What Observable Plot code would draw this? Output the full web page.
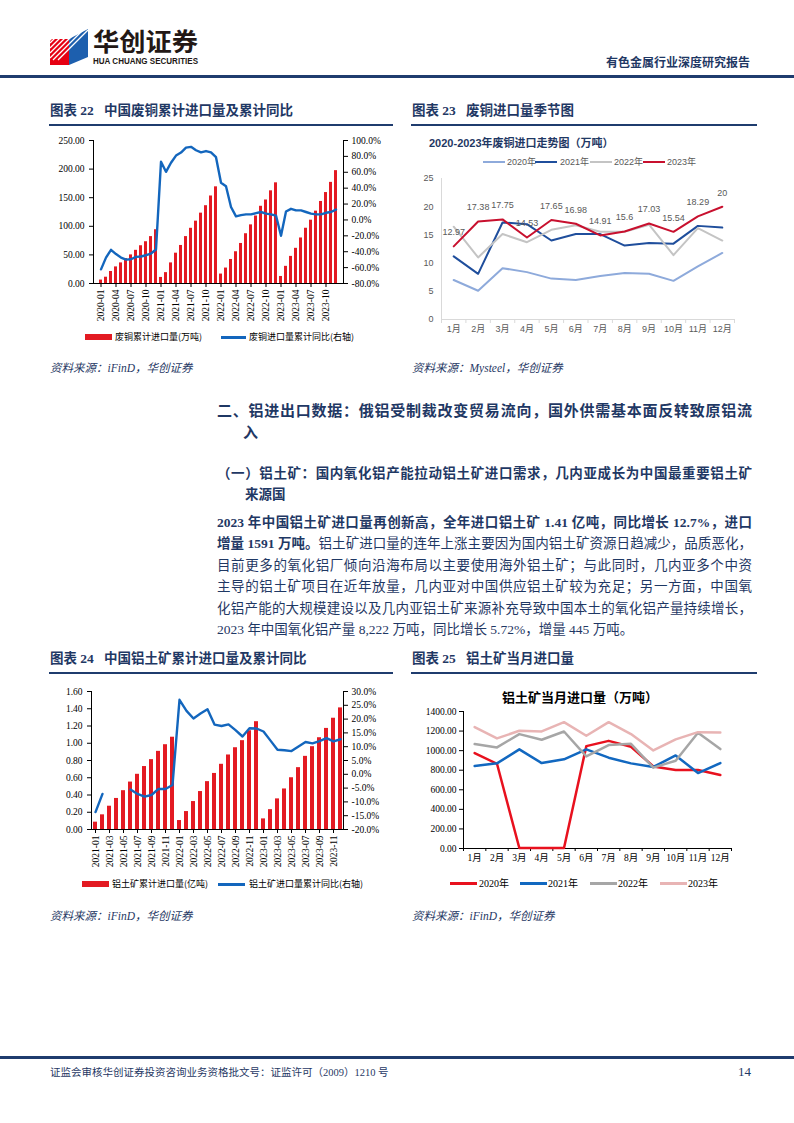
<!DOCTYPE html>
<html><head><meta charset="utf-8">
<script src="https://cdn.jsdelivr.net/npm/d3@7"></script>
<script src="https://cdn.jsdelivr.net/npm/@observablehq/plot@0.6"></script>
<style>
body{margin:0;background:#fff;}
#page{position:relative;width:794px;height:1123px;overflow:hidden;background:#fff;font-family:"Liberation Serif","Noto Sans CJK SC",serif;color:#1f3864;}
#page svg{position:absolute;overflow:visible;}
</style></head><body><div id="page"></div>
<script>
// ---------------- DATA ----------------
// Chart 22: scrap copper cumulative imports (万吨) and cumulative YoY (%)
const cuMonths = ["2020-01","2020-02","2020-03","2020-04","2020-05","2020-06","2020-07","2020-08","2020-09","2020-10","2020-11","2020-12",
"2021-01","2021-02","2021-03","2021-04","2021-05","2021-06","2021-07","2021-08","2021-09","2021-10","2021-11","2021-12",
"2022-01","2022-02","2022-03","2022-04","2022-05","2022-06","2022-07","2022-08","2022-09","2022-10","2022-11","2022-12",
"2023-01","2023-02","2023-03","2023-04","2023-05","2023-06","2023-07","2023-08","2023-09","2023-10","2023-11","2023-12"];
const cuQty = [6,11,21,29,36,43.5,50,58,66,73,82,94,
10.6,19,36,53,66.5,82,96.5,109,123,136,153,169,
16.5,27,42,55.5,70,87,102.5,118,135,146,162,176,
12.3,30,47.4,61.5,79.6,96.6,110.7,126.5,143.4,159,176.8,197.3];
const cuYoy = [-62.2,-47.4,-37.6,-43,-47.4,-50,-49.5,-46.5,-46,-44.4,-42.3,-37.2,
73.3,60.6,72,81,84.8,91,92,87.7,85,86.7,85,79,
46.8,42.5,16.3,4.5,6,7,7,8.5,10,8,7,5.5,
-20,10.6,14,12,12,10,8,7,7,9,10,13];
const cuTicks = ["2020-01","2020-04","2020-07","2020-10","2021-01","2021-04","2021-07","2021-10","2022-01","2022-04","2022-07","2022-10","2023-01","2023-04","2023-07","2023-10"];
const cuLeftTicks = [0,50,100,150,200,250];
const cuRightTicks = [-80,-60,-40,-20,0,20,40,60,80,100];

// Chart 23: scrap copper monthly imports by year (万吨)
const seasonMonths = ["1月","2月","3月","4月","5月","6月","7月","8月","9月","10月","11月","12月"];
const cu2020 = [7.0,5.1,9.1,8.4,7.25,7.0,7.7,8.25,8.1,6.85,9.4,11.8];
const cu2021 = [11.2,8.1,17.2,16.9,14.0,15.15,15.15,13.1,13.55,13.45,16.6,16.3];
const cu2022 = [16.45,11.0,15.15,13.7,15.9,16.7,15.55,15.55,16.8,11.4,16.2,14.0];
const cu2023 = [12.97,17.38,17.75,14.53,17.65,16.98,14.91,15.6,17.03,15.54,18.29,20];
const cuSeasonTicks = [0,5,10,15,20,25];
const seasonYears = ["2020年","2021年","2022年","2023年"];

// Chart 24: bauxite cumulative imports (亿吨) and cumulative YoY (%)
const bxMonths = ["2021-01","2021-02","2021-03","2021-04","2021-05","2021-06","2021-07","2021-08","2021-09","2021-10","2021-11","2021-12",
"2022-01","2022-02","2022-03","2022-04","2022-05","2022-06","2022-07","2022-08","2022-09","2022-10","2022-11","2022-12",
"2023-01","2023-02","2023-03","2023-04","2023-05","2023-06","2023-07","2023-08","2023-09","2023-10","2023-11","2023-12"];
const bxQty = [0.085,0.17,0.27,0.36,0.45,0.55,0.64,0.73,0.81,0.906,0.983,1.07,
0.104,0.208,0.324,0.44,0.555,0.65,0.756,0.864,0.948,1.03,1.145,1.25,
0.123,0.23,0.355,0.47,0.60,0.717,0.848,0.96,1.064,1.172,1.29,1.41];
const bxYoy = [-13.7,-7.1,null,null,null,-5.5,-7.1,-8.1,-7.5,-5.3,-5.3,-3.9,
27,23,20.2,22,23.6,18,17.5,18.1,16,13.7,16.7,16.6,
15.5,12.2,8.9,8.7,8.4,10.1,11.7,11.2,12.0,13.1,11.9,12.7];
const bxTicks = ["2021-01","2021-03","2021-05","2021-07","2021-09","2021-11","2022-01","2022-03","2022-05","2022-07","2022-09","2022-11","2023-01","2023-03","2023-05","2023-07","2023-09","2023-11"];
const bxLeftTicks = [0,0.2,0.4,0.6,0.8,1.0,1.2,1.4,1.6];
const bxRightTicks = [-20,-15,-10,-5,0,5,10,15,20,25,30];

// Chart 25: bauxite monthly imports (万吨)
const bx2020 = [975,866,5,5,5,1046,1100,1040,839,802,802,751];
const bx2021 = [843,870,1013,873,911,1013,928,870,833,951,771,873];
const bx2022 = [1067,1033,1169,1111,1196,941,1057,1070,826,897,1183,1016];
const bx2023 = [1240,1125,1203,1196,1291,1152,1291,1169,1002,1115,1189,1186];
const bxSeasonTicks = [0,200,400,600,800,1000,1200,1400];

// ---------------- HELPERS ----------------
const NAVY = "#1f3864";
const page = document.getElementById("page");
function el(css, html){const e=document.createElement("div");e.style.cssText="position:absolute;white-space:nowrap;"+css;if(html!=null)e.innerHTML=html;page.appendChild(e);return e;}
function txt(x,y,s,css){return el(`left:${x}px;top:${y-10}px;line-height:20px;height:20px;${css||""}`,s);}
function txtR(xr,y,s,css){return el(`right:${794-xr}px;top:${y-10}px;line-height:20px;height:20px;text-align:right;${css||""}`,s);}
function txtC(xc,y,s,css){return el(`left:${xc-150}px;width:300px;top:${y-10}px;line-height:20px;height:20px;text-align:center;${css||""}`,s);}
function place(svg,left,top){svg.style.left=left+"px";svg.style.top=top+"px";page.appendChild(svg);}
function hline(x1,x2,y,h,c){el(`left:${x1}px;top:${y}px;width:${x2-x1}px;height:${h}px;background:${c};`);}
function justLine(x,y,w,html,css,last){return el(`left:${x}px;top:${y-10}px;width:${w}px;line-height:20px;height:20px;text-align:justify;text-align-last:${last?"left":"justify"};white-space:normal;${css||""}`,html);}
const round1 = v => (Math.round(v*10)/10);

// ---------------- HEADER ----------------
const logo = document.createElementNS("http://www.w3.org/2000/svg","svg");
logo.setAttribute("width","160");logo.setAttribute("height","45");
logo.innerHTML = `
<polygon points="0,12 19,12 19,38 0,38" fill="#e60012"/>
<polygon points="19,12 38,2 38,30 19,38" fill="#1d5fae"/>
<g stroke="#fff" stroke-width="1.2">
<line x1="0" y1="16" x2="16" y2="0"/><line x1="0" y1="21" x2="21" y2="0"/><line x1="0" y1="26" x2="26" y2="0"/>
<line x1="0" y1="31" x2="31" y2="0"/><line x1="3" y1="33" x2="36" y2="0"/><line x1="8" y1="33" x2="38" y2="3"/>
</g>
<polygon points="0,0 14,0 0,14" fill="#fff"/>
<text x="43" y="24" font-family="Noto Sans CJK SC" font-weight="700" font-size="25" fill="#231815" textLength="105" lengthAdjust="spacingAndGlyphs">华创证券</text>
<text x="43" y="37" font-family="Liberation Sans" font-weight="700" font-size="8.5" fill="#231815" textLength="105" lengthAdjust="spacingAndGlyphs">HUA CHUANG SECURITIES</text>`;
place(logo,50,27);
txtR(750,62,"有色金属行业深度研究报告",`font-family:"Noto Sans CJK SC";font-size:12px;font-weight:700;color:${NAVY};`);
hline(0,794,75,3,"#1f3c6e");

// Figure titles
const figT = `font-family:"Liberation Serif","Noto Sans CJK SC";font-size:13.5px;font-weight:700;color:${NAVY};`;
txt(50,111,"图表 22&nbsp;&nbsp;&nbsp;中国废铜累计进口量及累计同比",figT);
txt(412,111,"图表 23&nbsp;&nbsp;&nbsp;废铜进口量季节图",figT);
hline(49,393,124,1.5,"#1f3c6e");hline(411,757,124,1.5,"#1f3c6e");
txt(50,659,"图表 24&nbsp;&nbsp;&nbsp;中国铝土矿累计进口量及累计同比",figT);
txt(412,659,"图表 25&nbsp;&nbsp;&nbsp;铝土矿当月进口量",figT);
hline(49,393,672,1.5,"#1f3c6e");hline(411,757,672,1.5,"#1f3c6e");

const srcT = `font-family:"Liberation Serif","Noto Sans CJK SC";font-size:11.5px;font-style:italic;color:${NAVY};`;
txt(50,368,"资料来源：iFinD，华创证券",srcT);
txt(412,368,"资料来源：Mysteel，华创证券",srcT);
txt(50,916,"资料来源：iFinD，华创证券",srcT);
txt(412,916,"资料来源：iFinD，华创证券",srcT);

// ---------------- BODY TEXT ----------------
const hT = `font-family:"Noto Sans CJK SC";font-weight:700;font-size:15px;color:${NAVY};`;
justLine(217,410,535,"二、铝进出口数据：俄铝受制裁改变贸易流向，国外供需基本面反转致原铝流",hT);
txt(243,432,"入",hT);
const sT = `font-family:"Noto Sans CJK SC";font-weight:700;font-size:13.5px;color:${NAVY};`;
justLine(217,472,535,"（一）铝土矿：国内氧化铝产能拉动铝土矿进口需求，几内亚成长为中国最重要铝土矿",sT);
txt(245,493,"来源国",sT);
const pT = `font-family:"Liberation Serif","Noto Sans CJK SC";font-size:13.5px;color:${NAVY};`;
const B = s => `<b style="font-weight:700">${s}</b>`;
const py = [523,544.4,565.8,587.2,608.6,630];
justLine(217,py[0],535,B("2023 年中国铝土矿进口量再创新高，全年进口铝土矿 1.41 亿吨，同比增长 12.7%，进口"),pT);
justLine(217,py[1],535,B("增量 1591 万吨。")+"铝土矿进口量的连年上涨主要因为国内铝土矿资源日趋减少，品质恶化，",pT);
justLine(217,py[2],535,"目前更多的氧化铝厂倾向沿海布局以主要使用海外铝土矿；与此同时，几内亚多个中资",pT);
justLine(217,py[3],535,"主导的铝土矿项目在近年放量，几内亚对中国供应铝土矿较为充足；另一方面，中国氧",pT);
justLine(217,py[4],535,"化铝产能的大规模建设以及几内亚铝土矿来源补充导致中国本土的氧化铝产量持续增长，",pT);
justLine(217,py[5],535,"2023 年中国氧化铝产量 8,222 万吨，同比增长 5.72%，增量 445 万吨。",pT,true);

// ---------------- FOOTER ----------------
hline(0,794,1056,3,"#1f3c6e");
txt(50,1073,"证监会审核华创证券投资咨询业务资格批文号：证监许可（2009）1210 号",`font-family:"Liberation Serif","Noto Sans CJK SC";font-size:10.5px;color:${NAVY};`);
txtR(751,1072,"14",`font-family:"Liberation Serif";font-size:13px;color:${NAVY};`);

// ---------------- CHART 22 ----------------
const serifStyle = {fontFamily:"Liberation Serif, Noto Sans CJK SC", fontSize:"9.5px", color:"#000", background:"transparent", overflow:"visible"};
const cuYoyT = v => (v + 80) / 180 * 250;
const cuData = cuMonths.map((m,i)=>({m, q:cuQty[i], p:cuYoy[i]}));
const c22 = Plot.plot({
  width:400, height:198, marginLeft:53, marginRight:97, marginTop:10, marginBottom:45,
  style: serifStyle,
  x:{type:"band", domain:cuMonths, paddingInner:0.42, paddingOuter:0.2, label:null},
  y:{domain:[0,250], label:null},
  marks:[
    Plot.barY(cuData,{x:"m", y:"q", fill:"#e31a22"}),
    Plot.line(cuData,{x:"m", y:d=>cuYoyT(d.p), stroke:"#1366bd", strokeWidth:2.4}),
    Plot.axisY({ticks:cuLeftTicks, tickFormat:d=>d.toFixed(2), tickSize:4, tickPadding:5, label:null}),
    Plot.axisY(cuRightTicks.map(cuYoyT),{anchor:"right", tickFormat:v=>round1(v/250*180-80).toFixed(1)+"%", tickSize:4, tickPadding:4, label:null}),
    Plot.axisX({ticks:cuTicks, tickRotate:-90, tickSize:4, tickPadding:2, label:null}),
    Plot.frame({anchor:"left"}), Plot.frame({anchor:"right"}), Plot.frame({anchor:"bottom"})
  ]
});
place(c22,40,130);
const legT = `font-family:"Noto Sans CJK SC";font-size:9px;color:#000;`;
el("left:85px;top:334px;width:27px;height:6px;background:#e31a22;");
txt(115,337,"废铜累计进口量(万吨)",legT);
el("left:221px;top:336px;width:25px;height:2.5px;background:#1366bd;");
txt(249,337,"废铜进口量累计同比(右轴)",legT);

// ---------------- CHART 23 ----------------
const seasonColors23 = ["#8eaadb","#1f4e9c","#c4c4c4","#c8102e"];
const cuSeason = [cu2020,cu2021,cu2022,cu2023].flatMap((arr,k)=>arr.map((v,i)=>({i, v, yr:seasonYears[k]})));
const cuLast = cu2023.map((v,i)=>({i, v}));
const c23 = Plot.plot({
  width:350, height:169, marginLeft:41, marginRight:16, marginTop:8, marginBottom:20,
  style:{fontFamily:"Liberation Sans, Noto Sans CJK SC", fontSize:"9px", color:"#595959", background:"transparent", overflow:"visible"},
  x:{domain:[-0.5,11.5], label:null},
  y:{domain:[0,25], label:null},
  color:{domain:seasonYears, range:seasonColors23},
  marks:[
    Plot.ruleY([0],{stroke:"#d9d9d9"}),
    Plot.ruleX([-0.5],{stroke:"#d9d9d9"}),
    Plot.axisY({ticks:cuSeasonTicks, tickSize:0, tickPadding:8, label:null}),
    Plot.axisX({ticks:d3.range(12), tickFormat:i=>seasonMonths[i], tickSize:0, tickPadding:6, label:null}),
    Plot.axisX({ticks:d3.range(13).map(i=>i-0.5), tickFormat:()=>"", tickSize:4, stroke:"#d9d9d9", label:null}),
    Plot.line(cuSeason,{x:"i", y:"v", z:"yr", stroke:"yr", strokeWidth:2}),
    Plot.text(cuLast,{x:"i", y:"v", text:d=>String(d.v), dy:-14, fill:"#595959", fontSize:9})
  ]
});
place(c23,400,170);
txt(429,143,"2020-2023年废铜进口走势图（万吨）",`font-family:"Liberation Sans","Noto Sans CJK SC";font-weight:700;font-size:11px;color:${NAVY};`);
const leg23x = [[483,507],[535,560],[590,614],[643,667]];
seasonYears.forEach((y,k)=>{
  el(`left:${leg23x[k][0]}px;top:161px;width:22px;height:2px;background:${seasonColors23[k]};`);
  txt(leg23x[k][1],162,y,`font-family:"Liberation Sans","Noto Sans CJK SC";font-size:9px;color:#595959;`);
});

// ---------------- CHART 24 ----------------
const bxYoyT = v => (v + 20) / 50 * 1.6;
const bxData = bxMonths.map((m,i)=>({m, q:bxQty[i], p:bxYoy[i]}));
const c24 = Plot.plot({
  width:400, height:194, marginLeft:51, marginRight:97, marginTop:11, marginBottom:45,
  style: serifStyle,
  x:{type:"band", domain:bxMonths, paddingInner:0.5, paddingOuter:0.25, label:null},
  y:{domain:[0,1.6], label:null},
  marks:[
    Plot.barY(bxData,{x:"m", y:"q", fill:"#e31a22"}),
    Plot.line(bxData,{x:"m", y:d=>d.p==null?NaN:bxYoyT(d.p), stroke:"#1366bd", strokeWidth:2.4}),
    Plot.axisY({ticks:bxLeftTicks, tickFormat:d=>d.toFixed(2), tickSize:4, tickPadding:5, label:null}),
    Plot.axisY(bxRightTicks.map(bxYoyT),{anchor:"right", tickFormat:v=>round1(v/1.6*50-20).toFixed(1)+"%", tickSize:4, tickPadding:4, label:null}),
    Plot.axisX({ticks:bxTicks, tickRotate:-90, tickSize:4, tickPadding:2, label:null}),
    Plot.frame({anchor:"left"}), Plot.frame({anchor:"right"}), Plot.frame({anchor:"bottom"})
  ]
});
place(c24,40,680);
el("left:82px;top:881px;width:27px;height:6px;background:#e31a22;");
txt(112,884,"铝土矿累计进口量(亿吨)",legT);
el("left:218px;top:883px;width:27px;height:2.5px;background:#1366bd;");
txt(249,884,"铝土矿进口量累计同比(右轴)",legT);

// ---------------- CHART 25 ----------------
const seasonColors25 = ["#e8111e","#1268c0","#a6a6a6","#e8b4b4"];
const bxSeason = [bx2020,bx2021,bx2022,bx2023].flatMap((arr,k)=>arr.map((v,i)=>({i, v, yr:seasonYears[k]})));
const c25 = Plot.plot({
  width:350, height:173, marginLeft:63, marginRight:19, marginTop:11, marginBottom:25,
  style: serifStyle,
  x:{domain:[-0.5,11.5], label:null},
  y:{domain:[0,1400], label:null},
  color:{domain:seasonYears, range:seasonColors25},
  marks:[
    Plot.ruleY([0],{stroke:"#000"}),
    Plot.ruleX([-0.5],{stroke:"#000"}),
    Plot.axisY({ticks:bxSeasonTicks, tickFormat:d=>d.toFixed(2), tickSize:4, tickPadding:3, label:null}),
    Plot.axisX({ticks:d3.range(12), tickFormat:i=>seasonMonths[i], tickSize:0, tickPadding:6, label:null}),
    Plot.axisX({ticks:d3.range(13).map(i=>i-0.5), tickFormat:()=>"", tickSize:3, label:null}),
    Plot.line(bxSeason,{x:"i", y:"v", z:"yr", stroke:"yr", strokeWidth:2.5})
  ]
});
place(c25,400,700);
txtC(580,697,"铝土矿当月进口量（万吨）",`font-family:"Noto Sans CJK SC";font-weight:700;font-size:13px;color:#000;`);
const leg25x = [[450,479],[520,548],[590,618],[660,688]];
seasonYears.forEach((y,k)=>{
  el(`left:${leg25x[k][0]}px;top:882px;width:27px;height:3px;background:${seasonColors25[k]};`);
  txt(leg25x[k][1],884,y,`font-family:"Liberation Serif","Noto Sans CJK SC";font-size:10px;color:#000;`);
});
</script></body></html>
